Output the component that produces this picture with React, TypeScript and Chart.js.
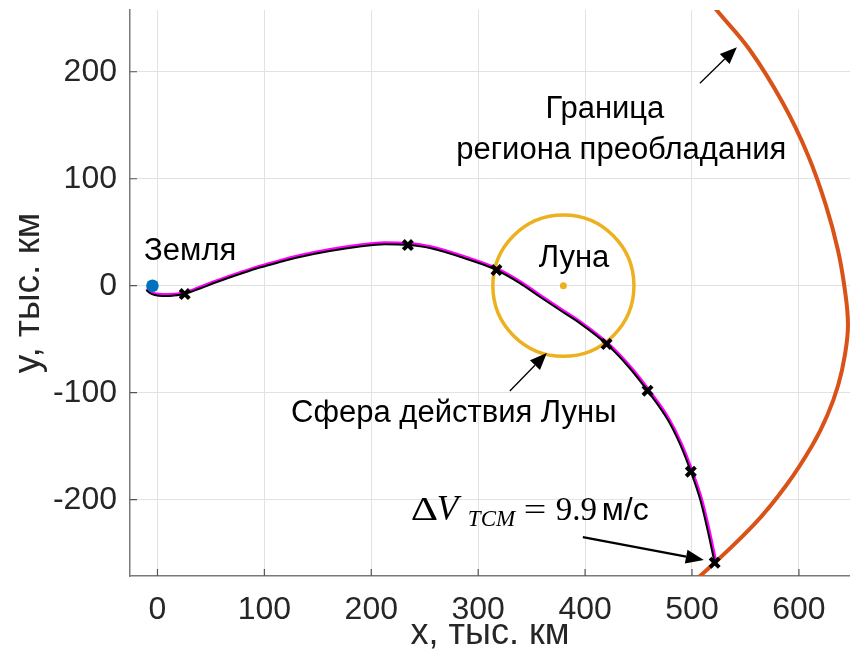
import React, { useEffect, useRef } from "react";
import { Chart, registerables } from "chart.js";

Chart.register(...registerables);

const FONT = '"Liberation Sans", Arial, Helvetica, sans-serif';
const SERIF = '"Liberation Serif", "Times New Roman", serif';

// Axis limits and ticks (thousand km)
const xLimits = [-25.7, 647.8];
const yLimits = [-271.3, 257.7];
const xTicks = [0, 100, 200, 300, 400, 500, 600];
const yTicks = [-200, -100, 0, 100, 200];

// Actual trajectory (black)
const trajX = [-10.3, -7.2, -2.5, 5.0, 14.3, 25.5, 39.6, 58.3, 77.0, 95.7, 114.4, 133.1, 161.2, 189.3, 212.7, 234.2, 254.8, 292.2, 317.1, 338.9, 357.6, 376.3, 395.0, 420.1, 440.0, 458.4, 477.5, 488.7, 498.9, 507.8, 514.6, 521.2];
const trajY = [-4.0, -6.8, -8.7, -9.6, -9.3, -7.8, -2.6, 4.4, 10.9, 17.0, 22.1, 26.8, 32.4, 36.6, 38.7, 38.0, 35.2, 24.0, 14.7, 2.5, -10.3, -22.7, -34.9, -54.5, -75.0, -98.1, -125.5, -147.9, -173.8, -200.3, -228.3, -258.9];

// Nominal trajectory (magenta)
const nomX = [-10.3, -7.2, -2.5, 5.0, 14.3, 25.5, 39.6, 58.3, 77.0, 95.7, 114.4, 133.1, 161.2, 189.3, 212.7, 234.2, 254.8, 292.6, 317.9, 339.8, 358.5, 377.2, 395.9, 421.1, 441.1, 459.6, 478.8, 490.1, 500.3, 509.2, 516.0, 522.5];
const nomY = [-3.0, -5.8, -7.5, -8.3, -8.0, -6.5, -1.3, 5.7, 12.2, 18.3, 23.5, 28.2, 33.9, 38.1, 40.2, 39.5, 36.7, 25.3, 15.8, 3.5, -9.3, -21.8, -34.0, -53.7, -74.4, -97.6, -125.2, -147.7, -173.7, -200.3, -228.3, -258.9];

// Correction points (x markers)
const markX = [25.5, 234.2, 317.1, 420.1, 458.4, 498.9, 521.2];
const markY = [-7.8, 38.0, 14.7, -54.5, -98.1, -173.8, -258.9];

// Bodies
const earthX = [-4.7];
const earthY = [0];
const moonX = [379.7];
const moonY = [0];
const soiRadius = 66;

// Boundary of the dominance region (orange-red)
const boundaryX = [497.1, 523.0, 554.1, 585.0, 608.4, 625.2, 636.5, 643.0, 645.9, 643.0, 636.8, 626.7, 612.7, 588.4, 557.7, 507.6, 457.8];
const boundaryY = [290.4, 257.7, 220.3, 170.7, 122.2, 75.4, 33.4, -4.0, -36.7, -64.8, -92.8, -120.8, -148.9, -186.3, -223.6, -271.3, -312.4];

const pts = (xs: number[], ys: number[]) => xs.map((x, i) => ({ x, y: ys[i] }));

function drawArrow(ctx: CanvasRenderingContext2D, x0: number, y0: number, x1: number, y1: number, lw: number, headLen: number, headHalf: number) {
  const ang = Math.atan2(y1 - y0, x1 - x0);
  const bx = x1 - headLen * Math.cos(ang);
  const by = y1 - headLen * Math.sin(ang);
  ctx.strokeStyle = "#000";
  ctx.fillStyle = "#000";
  ctx.lineWidth = lw;
  ctx.beginPath();
  ctx.moveTo(x0, y0);
  ctx.lineTo(bx, by);
  ctx.stroke();
  ctx.beginPath();
  ctx.moveTo(x1, y1);
  ctx.lineTo(bx + headHalf * Math.sin(ang), by - headHalf * Math.cos(ang));
  ctx.lineTo(bx - headHalf * Math.sin(ang), by + headHalf * Math.cos(ang));
  ctx.closePath();
  ctx.fill();
}

function scaledText(ctx: CanvasRenderingContext2D, text: string, x: number, y: number, sx: number) {
  ctx.save();
  ctx.translate(x, y);
  ctx.scale(sx, 1);
  ctx.fillText(text, 0, 0);
  ctx.restore();
}

const annotationPlugin = {
  id: "annotations",
  beforeDatasetsDraw(chart: any) {
    const { ctx, chartArea: a, scales } = chart;
    const xs = scales.x, ys = scales.y;
    ctx.save();
    ctx.beginPath();
    ctx.rect(a.left, a.top, a.right - a.left, a.bottom - a.top);
    ctx.clip();
    const cx = xs.getPixelForValue(moonX[0]);
    const cy = ys.getPixelForValue(moonY[0]);
    const rx = xs.getPixelForValue(moonX[0] + soiRadius) - cx;
    const ry = cy - ys.getPixelForValue(moonY[0] + soiRadius);
    ctx.strokeStyle = "#EDB120";
    ctx.lineWidth = 3.5;
    ctx.beginPath();
    ctx.ellipse(cx, cy, rx, ry, 0, 0, Math.PI * 2);
    ctx.stroke();
    ctx.restore();
  },
  afterDatasetsDraw(chart: any) {
    const { ctx, scales } = chart;
    const X = (v: number) => scales.x.getPixelForValue(v);
    const Y = (v: number) => scales.y.getPixelForValue(v);
    ctx.save();
    ctx.fillStyle = "#000";
    ctx.textBaseline = "alphabetic";
    ctx.font = `31px ${FONT}`;
    ctx.textAlign = "left";
    ctx.fillText("Земля", X(-12.5), Y(24.0));
    ctx.fillText("Луна", X(356.7), Y(17.5));
    ctx.fillText("Сфера действия Луны", X(125.0), Y(-127.4));
    ctx.textAlign = "center";
    ctx.fillText("Граница", X(418.5), Y(156.4));
    ctx.fillText("региона преобладания", X(433.9), Y(118.7));

    // Delta V label
    ctx.textAlign = "left";
    const x0 = X(237.0);
    const b0 = Y(-219.0);
    ctx.font = `34px ${SERIF}`;
    scaledText(ctx, "Δ", x0, b0, 1.25);
    ctx.font = `italic 35px ${SERIF}`;
    ctx.fillText("V", x0 + 26, b0);
    ctx.font = `italic 23px ${SERIF}`;
    ctx.fillText("TCM", x0 + 57, b0 + 6);
    ctx.font = `32px ${SERIF}`;
    scaledText(ctx, "=", x0 + 113, b0, 1.25);
    ctx.font = `33px ${SERIF}`;
    ctx.fillText("9.9", x0 + 145, b0);
    ctx.font = `32px ${FONT}`;
    ctx.fillText("м/с", x0 + 191, b0);

    // Arrows
    drawArrow(ctx, X(507.4), Y(189.3), X(542.0), Y(222.9), 1.3, 17, 7);
    drawArrow(ctx, X(329.6), Y(-98.4), X(364.2), Y(-62.9), 1.3, 17, 7);
    drawArrow(ctx, X(397.9), Y(-234.9), X(511.1), Y(-256.4), 2.2, 18, 7);
    ctx.restore();
  },
  afterDraw(chart: any) {
    const { ctx, chartArea: a, scales } = chart;
    ctx.save();
    ctx.strokeStyle = "#555";
    ctx.lineWidth = 1.2;
    ctx.beginPath();
    xTicks.forEach((v) => {
      const p = scales.x.getPixelForValue(v);
      ctx.moveTo(p, a.bottom);
      ctx.lineTo(p, a.bottom - 7);
    });
    yTicks.forEach((v) => {
      const p = scales.y.getPixelForValue(v);
      ctx.moveTo(a.left, p);
      ctx.lineTo(a.left + 7, p);
    });
    ctx.stroke();
    ctx.restore();
  },
};

export default function App() {
  const ref = useRef<HTMLCanvasElement>(null);
  useEffect(() => {
    const canvas = ref.current;
    if (!canvas) return;
    const chart = new Chart(canvas, {
      type: "scatter",
      data: {
        datasets: [
          { label: "Земля", data: pts(earthX, earthY), showLine: false, pointRadius: 6.3, pointBackgroundColor: "#0072BD", pointBorderWidth: 0 },
          { label: "Луна", data: pts(moonX, moonY), showLine: false, pointRadius: 3.5, pointBackgroundColor: "#EDB120", pointBorderWidth: 0 },
          { label: "TCM", data: pts(markX, markY), showLine: false, pointStyle: "crossRot", pointRadius: 6.5, pointBorderWidth: 4, pointBorderColor: "#000", pointBackgroundColor: "#000" },
          { label: "Фактическая", data: pts(trajX, trajY), showLine: true, borderColor: "#000", borderWidth: 2, pointRadius: 0, cubicInterpolationMode: "monotone" },
          { label: "Номинальная", data: pts(nomX, nomY), showLine: true, borderColor: "#FF00FF", borderWidth: 3, pointRadius: 0, cubicInterpolationMode: "monotone" },
          { label: "Граница", data: pts(boundaryX, boundaryY), showLine: true, borderColor: "#D95319", borderWidth: 4, pointRadius: 0, tension: 0.4 },
        ] as any,
      },
      options: {
        responsive: false,
        animation: false,
        events: [],
        layout: { autoPadding: false, padding: { top: 10, right: 0, bottom: 0, left: 0 } },
        plugins: { legend: { display: false }, tooltip: { enabled: false } },
        scales: {
          x: {
            type: "linear",
            min: xLimits[0],
            max: xLimits[1],
            afterBuildTicks: (s: any) => { s.ticks = xTicks.map((v) => ({ value: v })); },
            afterFit: (s: any) => { s.height = 75; s.paddingLeft = 0; s.paddingRight = 0; },
            grid: { color: "#e2e2e2", lineWidth: 1, drawTicks: false },
            border: { display: true, color: "#7a7a7a", width: 1.5 },
            ticks: { color: "#262626", font: { family: FONT, size: 32 }, padding: 15, maxRotation: 0, autoSkip: false, callback: (v: any) => String(v) },
            title: { display: true, text: "x, тыс. км", color: "#262626", font: { family: FONT, size: 36, lineHeight: 1 }, padding: { top: 0, bottom: -1 } },
          },
          y: {
            type: "linear",
            min: yLimits[0],
            max: yLimits[1],
            afterBuildTicks: (s: any) => { s.ticks = yTicks.map((v) => ({ value: v })); },
            afterFit: (s: any) => { s.width = 130; s.paddingTop = 0; s.paddingBottom = 0; },
            grid: { color: "#e2e2e2", lineWidth: 1, drawTicks: false },
            border: { display: true, color: "#7a7a7a", width: 1.5 },
            ticks: { color: "#262626", font: { family: FONT, size: 32 }, padding: 13, autoSkip: false, callback: (v: any) => String(v) },
            title: { display: true, text: "y, тыс. км", color: "#262626", font: { family: FONT, size: 37, lineHeight: 1 }, padding: { top: 10, bottom: 0 } },
          },
        },
      } as any,
      plugins: [annotationPlugin],
    });
    return () => chart.destroy();
  }, []);
  return (
    <div style={{ position: "absolute", left: 0, top: 0, width: 850, height: 651, background: "#fff" }}>
      <canvas ref={ref} width={850} height={651} />
    </div>
  );
}
